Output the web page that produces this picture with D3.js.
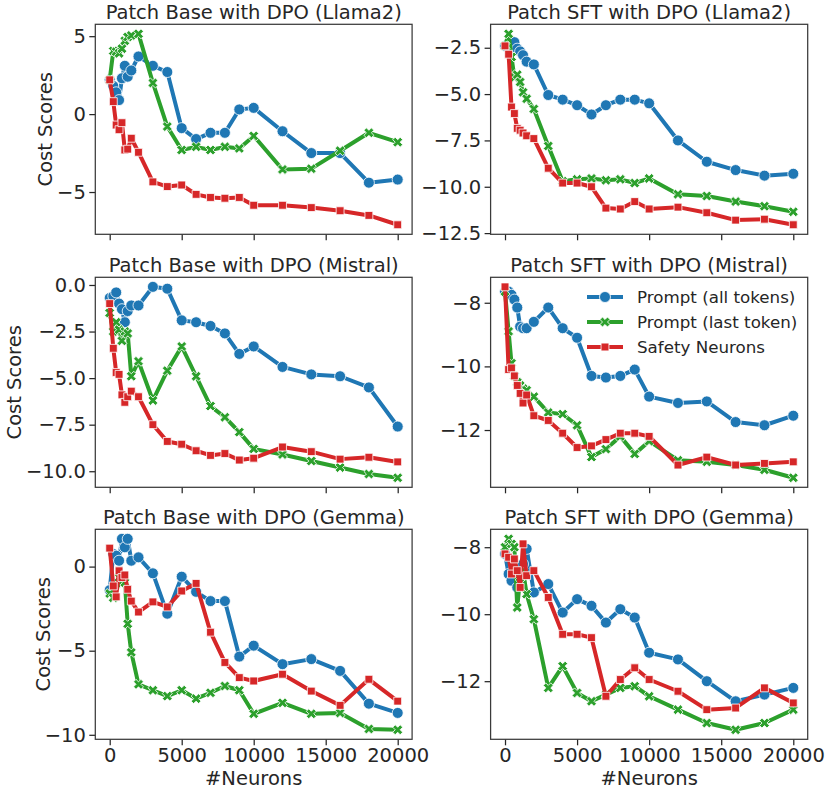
<!DOCTYPE html>
<html><head><meta charset="utf-8">
<script src="https://cdn.jsdelivr.net/npm/d3@7"></script>
<style>
body{margin:0;background:#fff}
text{font-family:"DejaVu Sans",sans-serif;fill:#262626}
</style></head>
<body><svg id="c" width="831" height="793"></svg>
<script>
// ---------------- data ----------------
const neurons = [0, 250, 450, 650, 850, 1050, 1250, 1500, 2000, 3000, 4000, 5000, 6000, 7000, 8000, 9000, 10000, 12000, 14000, 16000, 18000, 20000];
const seriesNames = ["Prompt (all tokens)", "Prompt (last token)", "Safety Neurons"];
const seriesColors = ["#1f77b4", "#2ca02c", "#d62728"];
const panelTitles = ["Patch Base with DPO (Llama2)", "Patch SFT with DPO (Llama2)",
  "Patch Base with DPO (Mistral)", "Patch SFT with DPO (Mistral)",
  "Patch Base with DPO (Gemma)", "Patch SFT with DPO (Gemma)"];
const xTickValues = [0, 5000, 10000, 15000, 20000];
const yTickValues = [[-5, 0, 5], [-12.5, -10, -7.5, -5, -2.5], [-10, -7.5, -5, -2.5, 0], [-12, -10, -8], [-10, -5, 0], [-12, -10, -8]];
const yTickDecimals = [0, 1, 1, 0, 0, 0];
const xLabel = "#Neurons";
const yLabel = "Cost Scores";

const llamaBaseAll  = [2.2, 1.8, 1.4, 0.9, 2.3, 3.1, 2.4, 2.8, 3.7, 3.1, 2.7, -0.9, -1.6, -1.2, -1.2, 0.3, 0.4, -1.1, -2.5, -2.5, -4.4, -4.2];
const llamaBaseLast = [2.2, 4.05, 4.0, 3.9, 4.2, 4.7, 4.95, 5.05, 5.15, 2.0, -0.8, -2.3, -2.1, -2.3, -2.1, -2.2, -1.4, -3.55, -3.5, -2.35, -1.2, -1.8];
const llamaBaseNeu  = [2.2, 0.8, -0.7, -1.0, -0.55, -2.3, -2.25, -1.55, -2.45, -4.35, -4.65, -4.55, -5.15, -5.35, -5.4, -5.35, -5.85, -5.85, -6.0, -6.2, -6.5, -7.1];

const llamaSftAll  = [-2.4, -2.35, -2.3, -2.2, -2.55, -2.7, -2.9, -3.25, -3.4, -5.05, -5.3, -5.6, -6.1, -5.6, -5.3, -5.3, -5.5, -7.5, -8.65, -9.1, -9.4, -9.3];
const llamaSftLast = [-2.4, -1.75, -3.0, -4.1, -3.95, -4.35, -4.9, -5.25, -5.8, -7.8, -9.7, -9.6, -9.55, -9.65, -9.6, -9.8, -9.55, -10.4, -10.5, -10.8, -11.05, -11.35];
const llamaSftNeu  = [-2.4, -2.85, -5.7, -6.05, -6.85, -6.95, -7.1, -7.25, -7.4, -9.0, -9.8, -9.8, -10.0, -11.15, -11.2, -10.8, -11.2, -11.1, -11.4, -11.8, -11.75, -12.05];

const mistralBaseAll  = [-0.7, -0.6, -0.4, -1.0, -1.3, -2.0, -1.4, -1.1, -1.1, -0.1, -0.2, -1.9, -2.0, -2.2, -2.6, -3.7, -3.3, -4.4, -4.8, -4.9, -5.5, -7.6];
const mistralBaseLast = [-1.5, -2.5, -2.0, -2.4, -3.0, -2.5, -2.6, -4.9, -4.1, -6.2, -4.6, -3.3, -4.9, -6.5, -7.1, -7.9, -8.8, -9.1, -9.45, -9.8, -10.15, -10.35];
const mistralBaseNeu  = [-1.0, -3.4, -4.7, -4.8, -5.9, -6.3, -6.0, -5.7, -6.0, -7.5, -8.4, -8.55, -8.9, -9.15, -9.05, -9.4, -9.3, -8.7, -8.95, -9.35, -9.25, -9.5];

const mistralSftAll  = [-7.65, -7.65, -7.75, -7.9, -8.15, -8.75, -8.8, -8.8, -8.6, -8.15, -8.8, -9.1, -10.3, -10.35, -10.3, -10.1, -10.95, -11.15, -11.1, -11.75, -11.85, -11.55];
const mistralSftLast = [-7.65, -8.9, -9.9, -10.3, -10.5, -10.6, -10.7, -10.75, -10.95, -11.45, -11.5, -11.85, -12.85, -12.6, -12.2, -12.75, -12.35, -12.95, -13.0, -13.1, -13.25, -13.5];
const mistralSftNeu  = [-7.5, -10.1, -10.05, -10.3, -10.6, -10.85, -11.15, -10.9, -11.55, -11.7, -12.1, -12.55, -12.5, -12.3, -12.1, -12.1, -12.2, -13.1, -12.85, -13.1, -13.05, -13.0];

const gemmaBaseAll  = [-1.4, 0.75, 0.65, 0.35, 1.65, 1.15, 1.65, 0.35, 0.55, -0.4, -2.8, -0.6, -1.5, -2.05, -2.05, -5.35, -4.7, -5.8, -5.5, -6.2, -8.15, -8.7];
const gemmaBaseLast = [-1.6, -1.85, -1.05, -0.65, -0.95, -0.95, -3.4, -5.1, -7.0, -7.35, -7.7, -7.35, -7.85, -7.5, -7.1, -7.35, -8.75, -8.1, -8.75, -8.7, -9.65, -9.7];
const gemmaBaseNeu  = [1.1, -1.15, -1.8, -0.25, -0.65, -0.5, -1.35, -2.05, -2.7, -2.1, -2.4, -1.45, -1.0, -3.9, -5.7, -6.6, -6.8, -6.4, -7.4, -8.25, -6.7, -8.0];

const gemmaSftAll  = [-8.2, -8.8, -9.0, -8.6, -9.2, -8.6, -8.5, -8.05, -9.35, -9.1, -9.95, -9.55, -9.75, -10.25, -9.85, -10.1, -11.15, -11.35, -12.0, -12.6, -12.4, -12.2];
const gemmaSftLast = [-8.0, -7.75, -7.9, -8.0, -9.8, -8.9, -8.7, -9.4, -10.15, -12.2, -11.55, -12.35, -12.6, -12.4, -12.2, -12.15, -12.45, -12.85, -13.25, -13.45, -13.25, -12.85];
const gemmaSftNeu  = [-8.2, -8.3, -8.8, -8.35, -8.7, -9.2, -7.9, -8.85, -8.7, -9.5, -10.6, -10.6, -10.7, -12.45, -11.95, -11.6, -11.95, -12.3, -12.85, -12.8, -12.2, -12.65];

const panelSeries = [
  [llamaBaseAll, llamaBaseLast, llamaBaseNeu],
  [llamaSftAll, llamaSftLast, llamaSftNeu],
  [mistralBaseAll, mistralBaseLast, mistralBaseNeu],
  [mistralSftAll, mistralSftLast, mistralSftNeu],
  [gemmaBaseAll, gemmaBaseLast, gemmaBaseNeu],
  [gemmaSftAll, gemmaSftLast, gemmaSftNeu]
];

// ---------------- layout ----------------
const cols = [[95.3, 412.1], [490.6, 807.7]];
const rows = [[24.3, 234.3], [277.3, 487.3], [529.3, 739.3]];
const yLabelX = [45, 14, 43];
const ink = "#262626";
const frameInk = "#3a3a3a";
const FS = 19.5;

const svg = d3.select("#c");
const fmtMinus = (v, dec) => { const s = Math.abs(v).toFixed(dec); return (v < 0 ? "\u2212" : "") + s; };

// marker shapes
const markerPath = [
  d3.symbol(d3.symbolCircle, 95)(),
  d3.symbol(d3.symbolCross, 62)(),
  d3.symbol(d3.symbolSquare, 62)()
];
const markerRot = [0, 45, 0];

function drawMarkers(g, pts, k) {
  g.selectAll(null).data(pts).enter().append("path")
    .attr("d", markerPath[k])
    .attr("transform", d => `translate(${d[0]},${d[1]}) rotate(${markerRot[k]})`)
    .attr("fill", seriesColors[k])
    .attr("stroke", "#fff").attr("stroke-width", 0.8);
}

panelSeries.forEach((series, p) => {
  const r = Math.floor(p / 2), c = p % 2;
  const [x0, x1] = cols[c], [y0, y1] = rows[r];
  const all = series.flat();
  const lo = d3.min(all), hi = d3.max(all), pad = (hi - lo) * 0.05;
  const x = d3.scaleLinear().domain([-1000, 21000]).range([x0, x1]);
  const y = d3.scaleLinear().domain([lo - pad, hi + pad]).range([y1, y0]);
  const g = svg.append("g");

  const cid = "clip" + p;
  svg.append("clipPath").attr("id", cid).append("rect").attr("x", x0).attr("y", y0).attr("width", x1 - x0).attr("height", y1 - y0);

  const xa = d3.axisBottom(x).tickValues(xTickValues).tickSize(6).tickPadding(2.5)
    .tickFormat(r === 2 ? d3.format("d") : () => "");
  const gx = g.append("g").attr("transform", `translate(0,${y1})`).call(xa);
  const ya = d3.axisLeft(y).tickValues(yTickValues[p]).tickSize(6).tickPadding(3.5)
    .tickFormat(v => fmtMinus(v, yTickDecimals[p]));
  const gy = g.append("g").attr("transform", `translate(${x0},0)`).call(ya);
  [gx, gy].forEach(a => {
    a.select(".domain").remove();
    a.selectAll(".tick line").attr("stroke", ink).attr("stroke-width", 1.25);
    a.selectAll(".tick text").attr("font-size", FS).attr("font-family", "DejaVu Sans").attr("fill", ink);
  });

  const plot = g.append("g").attr("clip-path", `url(#${cid})`);
  series.forEach((vals, k) => {
    const pts = neurons.map((n, i) => [x(n), y(vals[i])]);
    plot.append("path").attr("d", d3.line()(pts))
      .attr("fill", "none").attr("stroke", seriesColors[k]).attr("stroke-width", 4)
      .attr("stroke-linejoin", "round");
    drawMarkers(plot, pts, k);
  });

  g.append("rect").attr("x", x0).attr("y", y0).attr("width", x1 - x0).attr("height", y1 - y0)
    .attr("fill", "none").attr("stroke", frameInk).attr("stroke-width", 1.25);

  g.append("text").attr("x", (x0 + x1) / 2).attr("y", y0 - 5.5).attr("text-anchor", "middle")
    .attr("font-size", FS).text(panelTitles[p]);

  if (c === 0) {
    g.append("text").attr("transform", `translate(${yLabelX[r]},${(y0 + y1) / 2}) rotate(-90)`)
      .attr("text-anchor", "middle").attr("dominant-baseline", "central")
      .attr("font-size", FS).text(yLabel);
  }
  if (r === 2) {
    g.append("text").attr("x", (x0 + x1) / 2).attr("y", 785).attr("text-anchor", "middle")
      .attr("font-size", FS).text(xLabel);
  }

  if (p === 3) {
    const lg = g.append("g");
    const ly = [297, 322, 347];
    seriesNames.forEach((name, k) => {
      lg.append("line").attr("x1", 587).attr("x2", 623).attr("y1", ly[k]).attr("y2", ly[k])
        .attr("stroke", seriesColors[k]).attr("stroke-width", 4);
      drawMarkers(lg, [[605, ly[k]]], k);
      lg.append("text").attr("x", 637).attr("y", ly[k]).attr("dominant-baseline", "central")
        .attr("font-size", 16.7).text(name);
    });
  }
});
</script>
</body></html>
